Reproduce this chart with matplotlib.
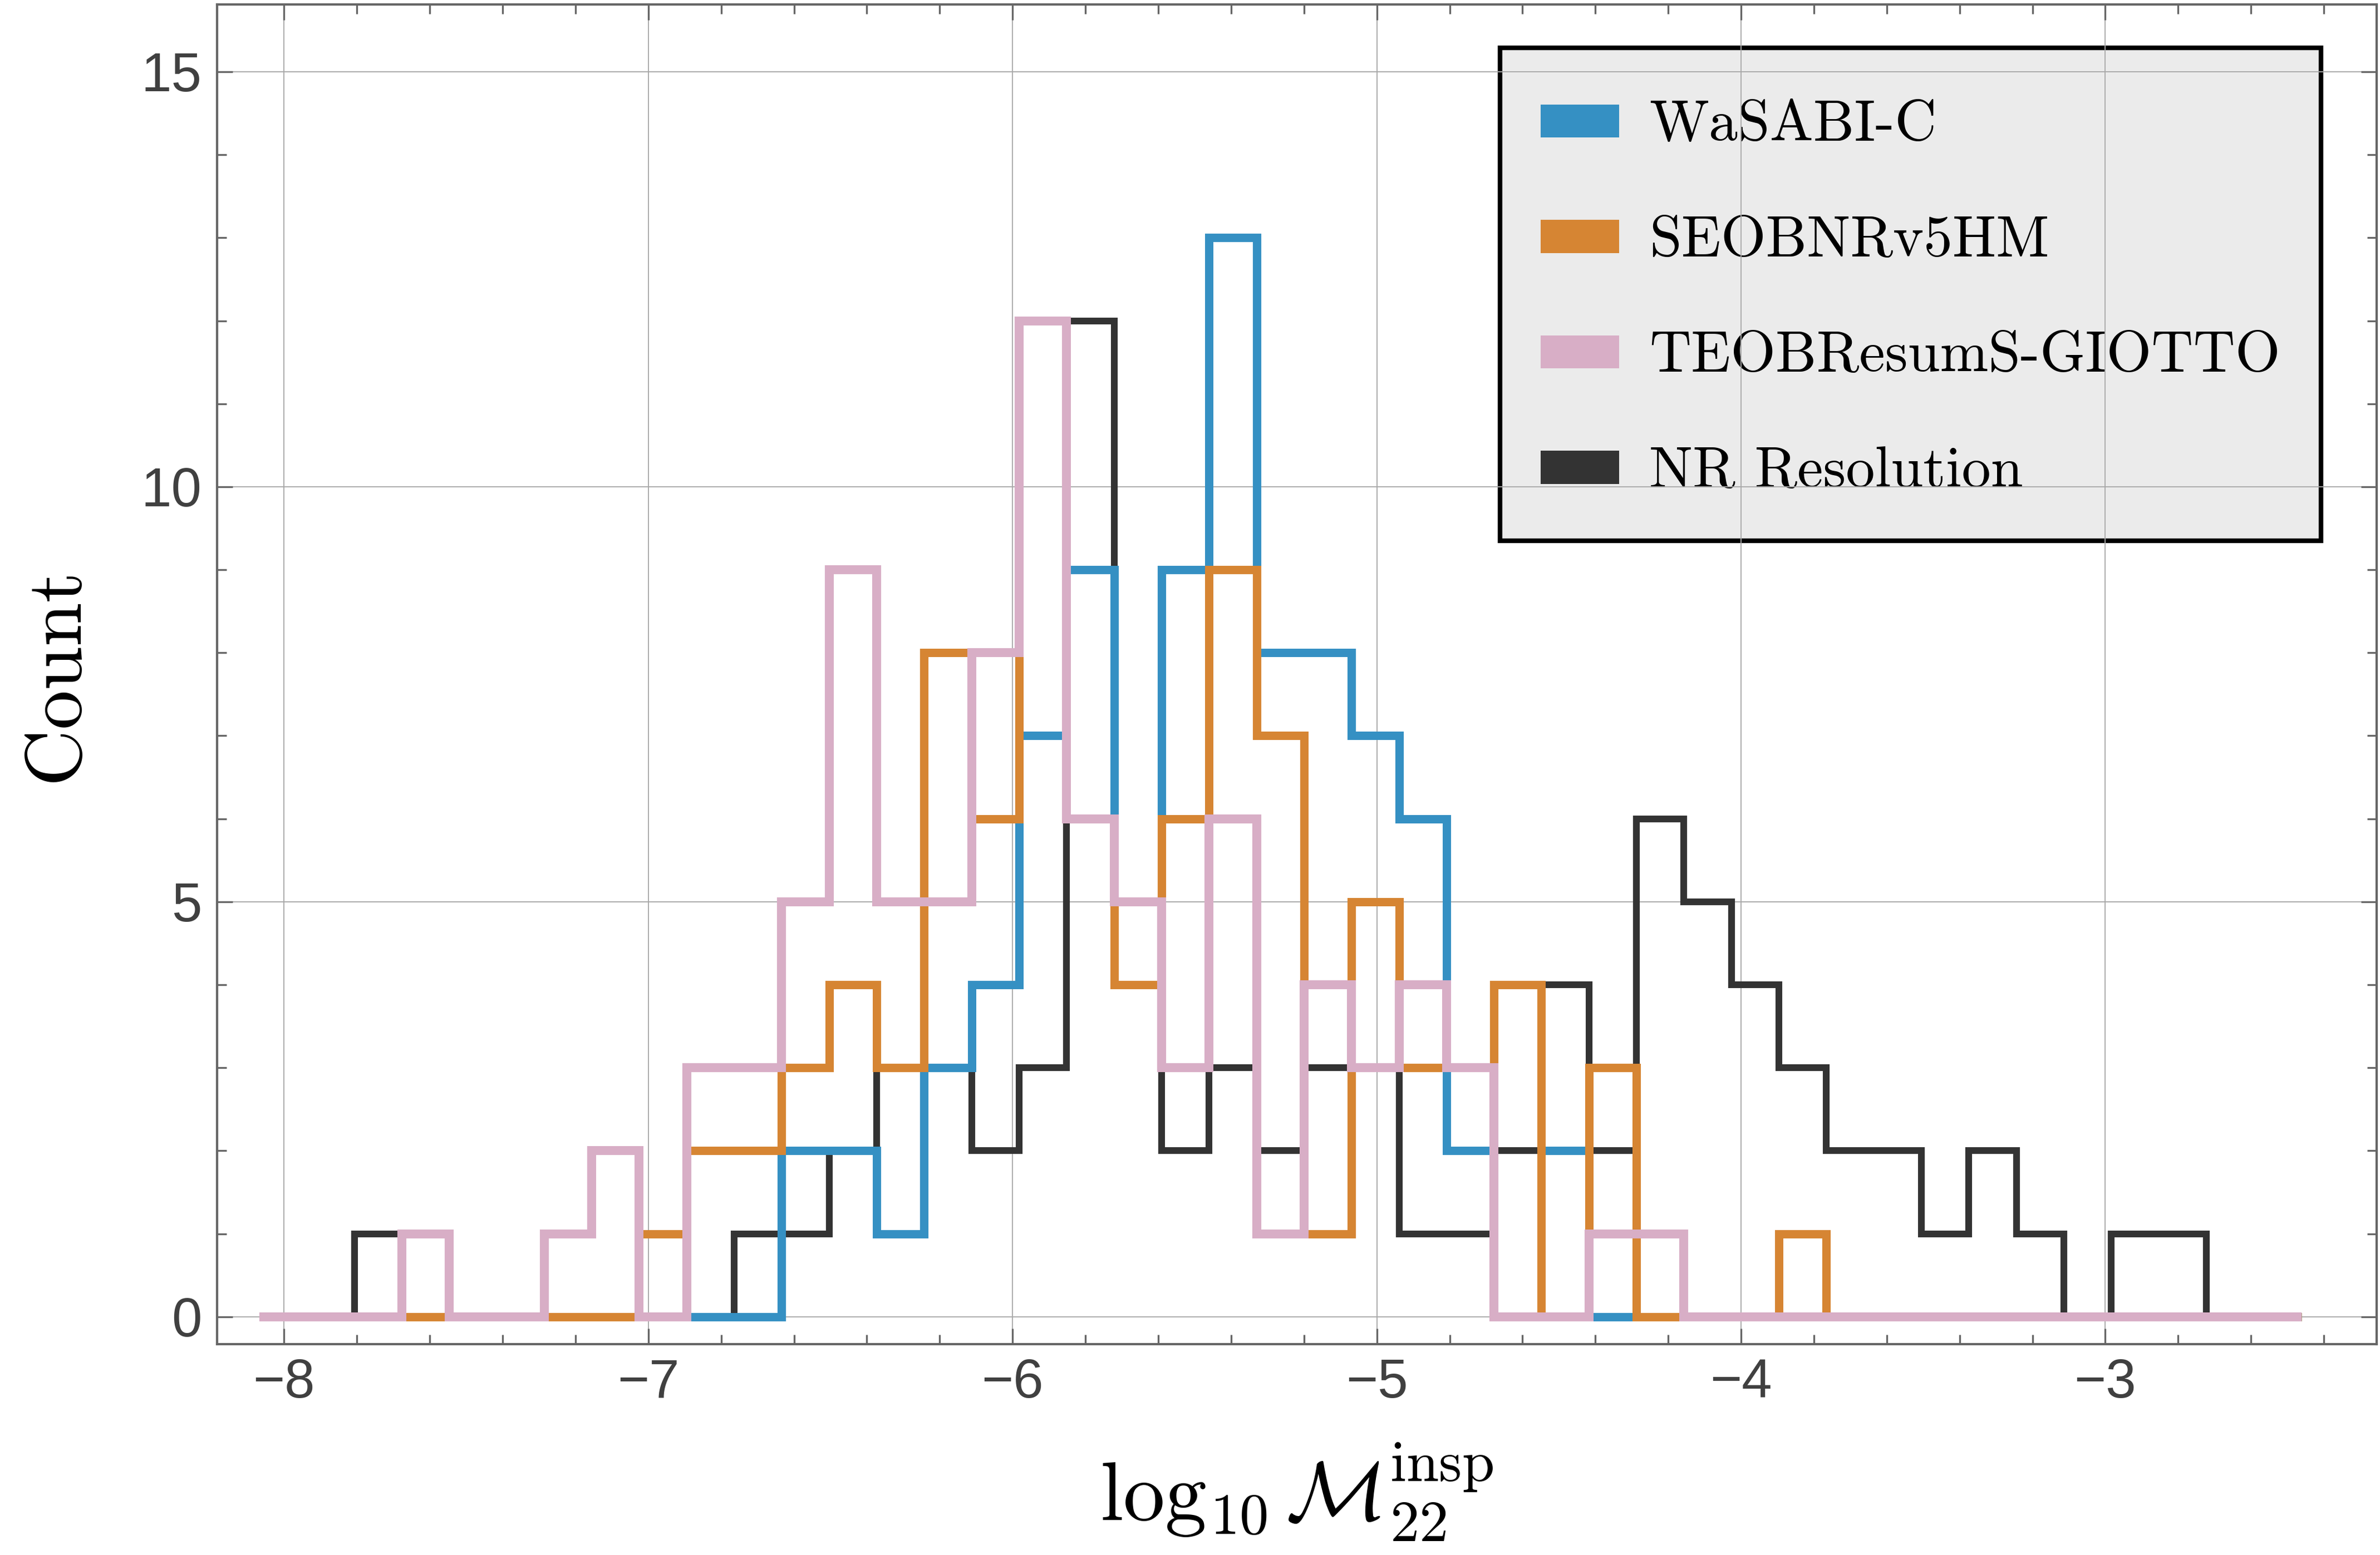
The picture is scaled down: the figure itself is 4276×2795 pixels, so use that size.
"""
Mismatch histogram - log10 M22 insp
"""

import numpy as np
import matplotlib
matplotlib.use("Agg")
import matplotlib.pyplot as plt
from matplotlib.patches import Patch, Rectangle
from matplotlib.legend_handler import HandlerPatch
from matplotlib.ticker import MultipleLocator

plt.rcParams.update({
    'mathtext.fontset': 'cm',
    'font.family': ['Liberation Sans', 'DejaVu Sans'],
    'axes.unicode_minus': True,
})

# ====================
# data (counts per bin)
# ====================
bin_lo, bin_hi, n_bins = -8.068, -2.462, 43
bin_edges = np.linspace(bin_lo, bin_hi, n_bins + 1)

wasabi = [0, 0, 0, 0, 0, 0, 0, 0, 0, 0, 0,
          2, 2, 1, 3, 4, 7, 9, 4, 9, 13, 8, 8, 7, 6, 2, 4, 2,
          0, 0, 0, 0, 0, 0, 0, 0, 0, 0, 0, 0, 0, 0, 0]
seob = [0, 0, 0, 0, 0, 0, 0, 0,
        1, 2, 2, 3, 4, 3, 8, 6, 12, 6, 4, 6, 9, 7, 1, 5, 3, 3, 4, 0, 3, 0, 0, 0, 1,
        0, 0, 0, 0, 0, 0, 0, 0, 0, 0]
teob = [0, 0, 0, 1, 0, 0, 1, 2, 0, 3, 3, 5, 9, 5, 5, 8, 12, 6, 5, 3, 6, 1, 4, 3, 4, 3,
        0, 0, 1, 1,
        0, 0, 0, 0, 0, 0, 0, 0, 0, 0, 0, 0, 0]
nr_res = [0, 0, 1, 0, 0, 0, 0, 0, 0, 0, 1, 1, 2, 3, 3, 2, 3, 12, 4, 2, 3, 2, 3, 3, 1, 1,
          2, 4, 2, 6, 5, 4, 3, 2, 2, 1, 2, 1, 0, 1, 1, 0, 0]

labels = ["WaSABI-C", "SEOBNRv5HM", "TEOBResumS-GIOTTO", "NR Resolution"]
colors = ["#3590C3", "#D68533", "#D8AEC6", "#333333"]


def small_box(legend, orig_handle, xdescent, ydescent, width, height, fontsize):
    # 图例色块比行高矮一些，保持居中
    h0 = 0.57 * fontsize
    return Rectangle((-xdescent, -ydescent + (height - h0) / 2), width, h0)


# ====================
# figure
# ====================
fig = plt.figure(figsize=(4276 / 300, 2795 / 300), dpi=300)
ax = fig.add_axes([0.0912, 0.1356, 0.9074, 0.8615])

# NR underneath, TEOB on top
ax.stairs(nr_res, bin_edges, color=colors[3], lw=2.9, zorder=2)
ax.stairs(wasabi, bin_edges, color=colors[0], lw=3.6, zorder=3)
ax.stairs(seob, bin_edges, color=colors[1], lw=3.6, zorder=4)
ax.stairs(teob, bin_edges, color=colors[2], lw=3.85, zorder=5)

ax.set_xlim(-8.184, -2.255)
ax.set_ylim(-0.33, 15.81)

ax.xaxis.set_major_locator(MultipleLocator(1))
ax.xaxis.set_minor_locator(MultipleLocator(0.2))
ax.yaxis.set_major_locator(MultipleLocator(5))
ax.yaxis.set_minor_locator(MultipleLocator(1))

ax.set_axisbelow(True)
ax.grid(True, which='major', color='#a8a8a8', lw=0.45)

ax.tick_params(which='both', direction='in', top=True, right=True,
               color='#666666', width=0.8, labelcolor='#404040', labelsize=23.5)
ax.tick_params(which='major', length=6.8)
ax.tick_params(which='minor', length=4.0)
ax.tick_params(axis='y', pad=6.5)
ax.tick_params(axis='x', pad=6)
for sp in ax.spines.values():
    sp.set_color('#666666')
    sp.set_linewidth(1.0)

ax.set_ylabel('Count', family='cmr10', fontsize=34, labelpad=21)
ax.set_xlabel(r'$\log_{10}\mathcal{M}_{22}^{\mathrm{insp}}$', fontsize=36, labelpad=14)

handles = [Patch(facecolor=c, edgecolor='none') for c in colors]
leg = ax.legend(handles, labels, loc='upper right', bbox_to_anchor=(0.9742, 0.9676),
                borderaxespad=0, prop={'family': 'cmr10', 'size': 25},
                frameon=True, fancybox=False, facecolor='#EBEBEB', edgecolor='black',
                framealpha=1, handlelength=1.36, handleheight=1.35, handletextpad=0.52,
                labelspacing=0.87, borderpad=0.7,
                handler_map={Patch: HandlerPatch(patch_func=small_box)})
leg.get_frame().set_linewidth(2.0)
leg.set_zorder(0.3)

fig.savefig("out.png", dpi=300, facecolor='white')
